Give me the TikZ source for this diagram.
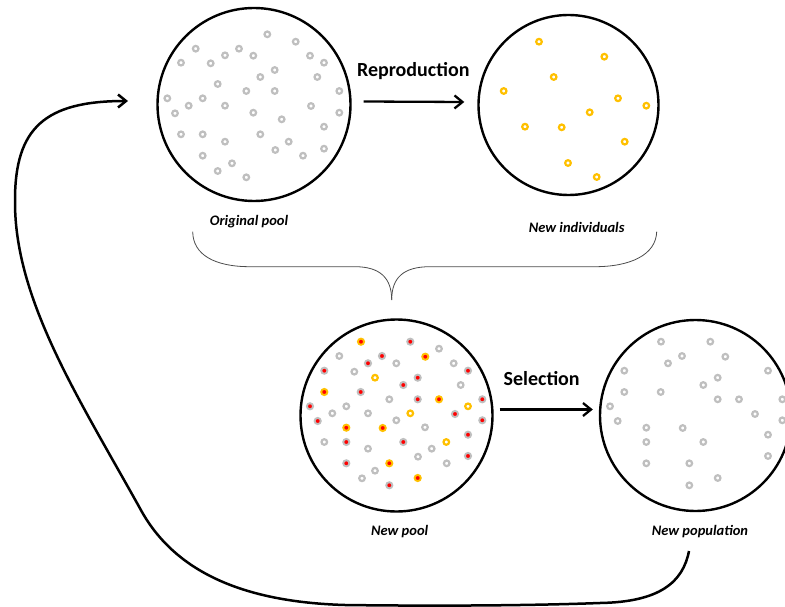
\documentclass[tikz,border=0pt]{standalone}
\usepackage{fontspec}
\setmainfont{Carlito}
\usepackage{xcolor}
\usepackage{tikz}
\usetikzlibrary{arrows.meta, positioning}

\definecolor{gold}{HTML}{FFC000}

\begin{document}
\begin{tikzpicture}[
    x=1pt, y=-1pt,
    dish/.style={circle, draw=black, line width=2.4pt, inner sep=0pt},
    stage/.style={font=\bfseries\fontsize{20}{24}\selectfont, anchor=base},
    caption/.style={font=\bfseries\itshape\fontsize{14.5}{17}\selectfont, anchor=base},
    arrow/.style={-{Straight Barb[length=8pt, width=13pt]}, line width=2.3pt},
    bracket/.style={draw=black!70, line width=0.8pt},
    poolring/.style={draw=gray!50, line width=2.2pt},
    childring/.style={draw=gold, line width=2.2pt},
    pickedpool/.style={draw=gray!50, line width=1.9pt, fill=red},
    pickedchild/.style={draw=gold, line width=1.9pt, fill=red}
]
\clip (0,0) rectangle (785,607);

% the four pools
\node[dish, minimum size=193pt] (pool) at (254,104.5) {};
\node[dish, minimum size=180pt] (offspring) at (568.5,105) {};
\node[dish, minimum size=192pt] (mixpool) at (396.5,415.5) {};
\node[dish, minimum size=191pt] (population) at (695.5,415.5) {};

\node[caption] (poollabel) at (249,225.7) {Original pool};
\node[caption] (offspringlabel) at (576.7,233) {New individuals};
\node[caption] (mixpoollabel) at (399.7,535) {New pool};
\node[caption] (populationlabel) at (700,535) {New population};

% original pool
\foreach \x/\y in {267.3/34.3, 295.7/41.7, 195.7/48.7, 239/48.7, 225/55.3, 253.3/55.7,
    310/55.7, 181/62.7, 210.7/63.3, 324/62.7, 274.7/70, 260.3/77, 317.3/77, 217.7/84,
    246.3/91, 274.7/91, 339.3/91, 167.3/98.3, 202.7/98.3, 188.7/105.7, 225/105.7,
    311/106, 175/113.3, 253.3/112.7, 339.3/112.7, 281.7/119.3, 324/126.7, 181/134.3,
    202.7/134.3, 260.3/134.3, 225/141.7, 288.7/141.7, 275.3/150, 324/148.7,
    202.7/155.7, 303/155.7, 232/163.3, 217.7/171, 246.3/177.3}
  \draw[poolring] (\x,\y) circle[radius=2.8pt];

% new individuals
\foreach \x/\y in {539/41.7, 604.3/56.7, 553.7/77, 503.7/91, 618/98.3, 646.3/105.7,
    589.7/112.3, 525/126.7, 561.7/127.3, 624.7/141.7, 568/163, 596.7/177}
  \draw[childring] (\x,\y) circle[radius=2.8pt];

% new pool: not selected
\foreach \x/\y/\s in {339.3/356/poolring, 439/348.7/poolring, 396.3/363.3/poolring,
    453.7/363.3/poolring, 354.3/371.7/poolring, 460.7/385/poolring, 389.3/399.3/poolring,
    346.3/406.3/poolring, 332.3/413.3/poolring, 368/413.3/poolring, 396.3/420.3/poolring,
    425/427.3/poolring, 324.3/442/poolring, 368/448.7/poolring, 431.7/448.7/poolring,
    418/456.7/poolring, 446.7/463.3/poolring, 375/470.7/poolring, 362/478.3/poolring,
    375/377.7/childring, 468/406.3/childring, 410.3/413.3/childring, 446.3/442/childring}
  \draw[\s] (\x,\y) circle[radius=2.8pt];

% new pool: selected, kept in the new population
\foreach \x/\y/\s in {361/341.7/pickedchild, 410.3/341.7/pickedpool, 382/356/pickedpool,
    425.3/356.7/pickedchild, 368/363.3/pickedpool, 324.3/370.7/pickedpool,
    468/370.7/pickedpool, 417.7/377.7/pickedpool, 403.3/385/pickedpool,
    324.3/392/pickedchild, 360.7/392/pickedpool, 417.7/399.3/pickedpool,
    439/399.3/pickedchild, 482.3/399.3/pickedpool, 310/406.3/pickedpool,
    455/414/pickedpool, 317.7/421/pickedpool, 482.3/420.3/pickedpool,
    346.3/427.7/pickedchild, 382.7/428/pickedchild, 468/434.7/pickedpool,
    346.3/442/pickedpool, 403.3/442/pickedpool, 468/456/pickedpool,
    346.3/463.3/pickedpool, 389.3/463.3/pickedchild, 417.7/478/pickedchild,
    389.3/485.3/pickedpool} {
  \draw[\s] (\x,\y) circle[radius=3.1pt];
  \draw[poolring] (\x+300,\y) circle[radius=2.8pt];
}

% steps
\draw[arrow] ([xshift=12pt, yshift=3pt]pool.east) -- ([xshift=-13pt, yshift=3pt]offspring.west);
\node[stage] (reproduction) at (413.3,76.7) {Reproduction};
\draw[arrow] ([xshift=6pt, yshift=6pt]mixpool.east) -- ([xshift=-6pt, yshift=6pt]population.west);
\node[stage] (selection) at (541.7,385) {Selection};

% both pools are merged
\draw[bracket] (192.7,231.7) .. controls (193,255) and (215,266.7) .. (250,266.7) -- (355,266.7)
  .. controls (380,266.7) and (391.7,278) .. (391.7,300);
\draw[bracket] (656.7,231.7) .. controls (656,255) and (630,266.7) .. (595,266.7) -- (430,266.7)
  .. controls (403,266.7) and (391.7,278) .. (391.7,300);

% next generation
\coordinate (loopstart) at (689,551);
\coordinate (loopend) at (128,101);
\draw[arrow, line width=2.5pt] (loopstart) .. controls (683,582) and (660,602) .. (600,603)
  .. controls (520,606) and (420,606) .. (345,605)
  .. controls (240,602) and (175,570) .. (142,512)
  .. controls (80,400) and (14,300) .. (15,200)
  .. controls (15,128) and (45,101) .. (loopend);

\end{tikzpicture}
\end{document}
